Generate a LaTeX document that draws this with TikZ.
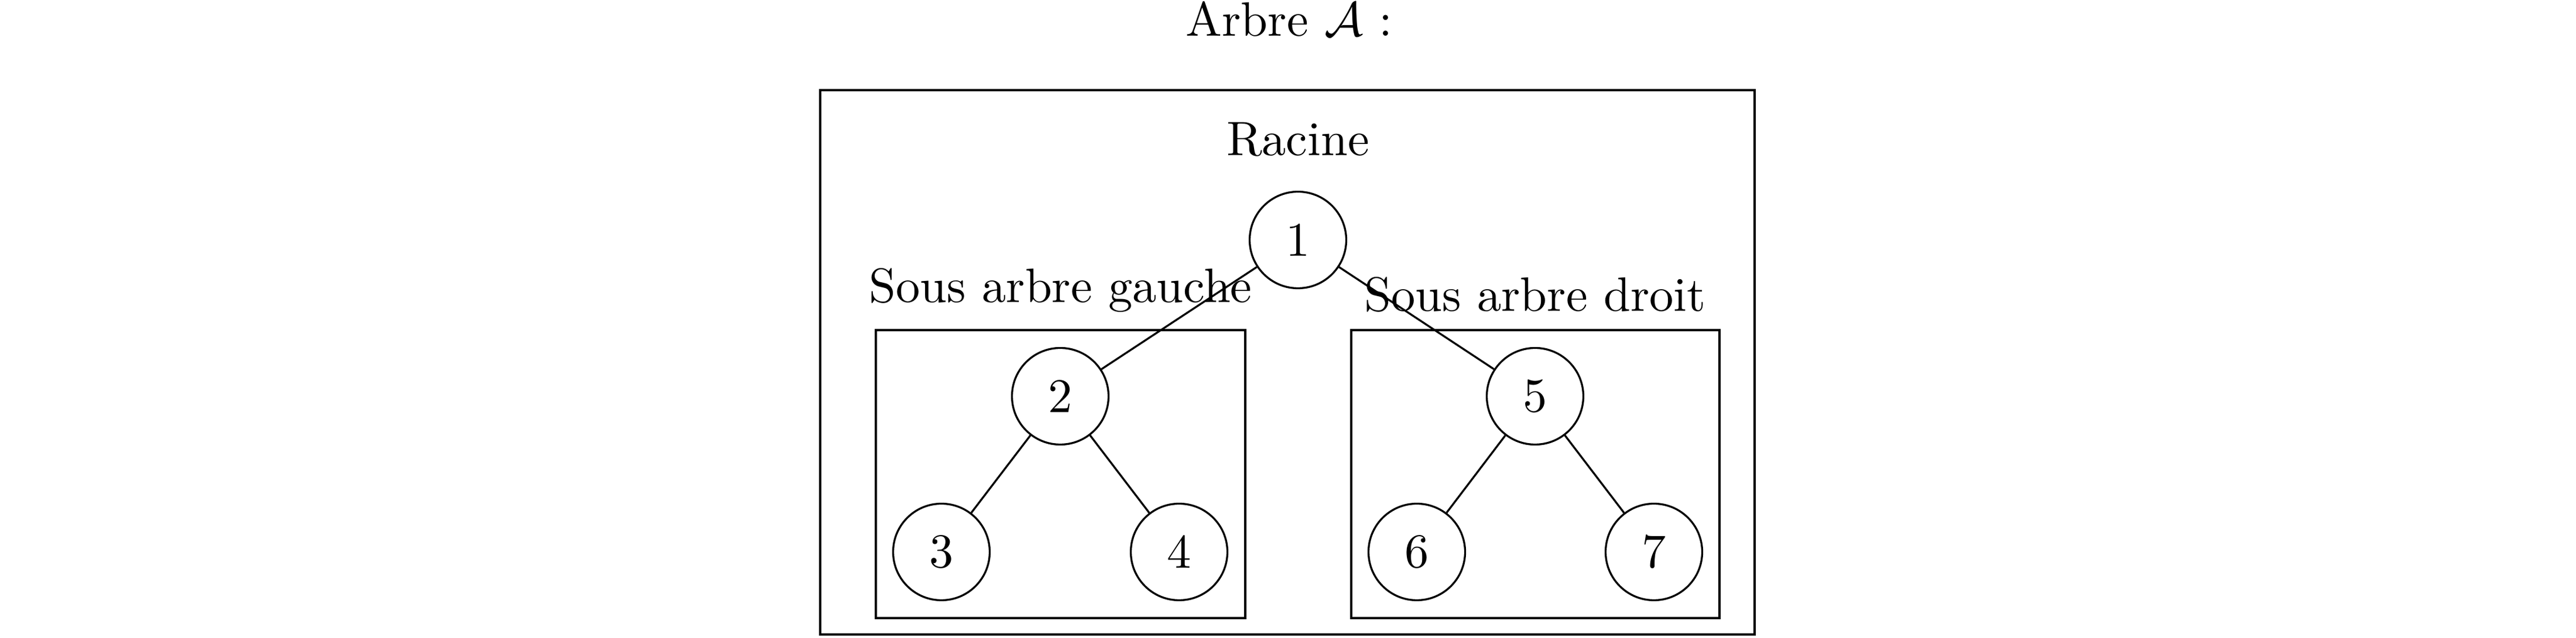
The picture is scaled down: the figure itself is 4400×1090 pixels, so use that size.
\documentclass[tikz,border=0pt]{standalone}
\begin{document}
\begin{tikzpicture}[x=0.121212pt,y=-0.121212pt,
  treenode/.style={draw,circle,minimum size=20pt,inner sep=0pt,line width=0.4pt},
  boxline/.style={draw,line width=0.4pt},
  lbl/.style={anchor=base,inner sep=0pt}]
\useasboundingbox (0,0) rectangle (4400,1090);
% boxes
\draw[boxline] (1401,154) rectangle (2997,1084);
\draw[boxline] (1496,564) rectangle (2127,1056);
\draw[boxline] (2308,564) rectangle (2937,1056);
% texts
\node[lbl,anchor=base west] (title) at (2024,62) {Arbre $\mathcal{A}$ :};
\node[lbl] (racine) at (2217,266) {Racine};
\node[lbl] (sag) at (1811.5,517) {Sous arbre gauche};
\node[lbl] (sad) at (2622,532) {Sous arbre droit};
% nodes
\node[treenode] (n1) at (2217,410) {1};
\node[treenode] (n2) at (1811,677) {2};
\node[treenode] (n5) at (2622,677) {5};
\node[treenode] (n3) at (1608,943) {3};
\node[treenode] (n4) at (2014,943) {4};
\node[treenode] (n6) at (2420,943) {6};
\node[treenode] (n7) at (2825,943) {7};
% edges
\draw (n1) -- (n2);
\draw (n1) -- (n5);
\draw (n2) -- (n3);
\draw (n2) -- (n4);
\draw (n5) -- (n6);
\draw (n5) -- (n7);
\end{tikzpicture}
\end{document}
